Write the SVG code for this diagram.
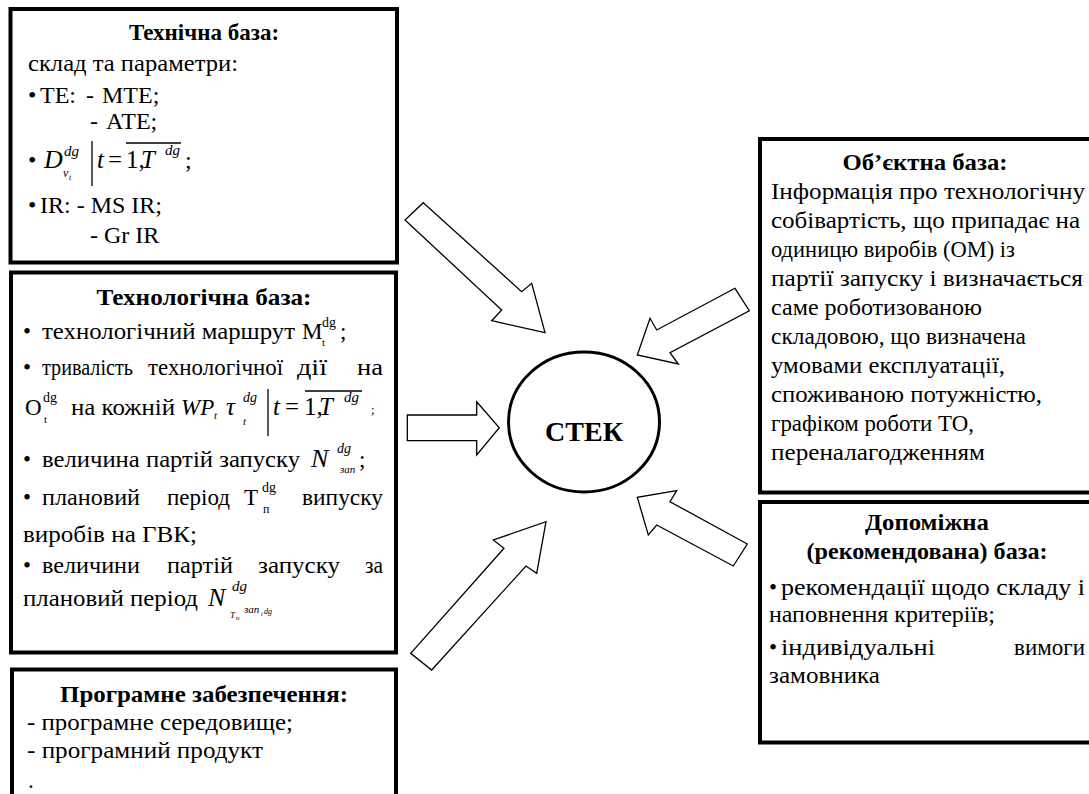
<svg xmlns="http://www.w3.org/2000/svg" width="1089" height="794" viewBox="0 0 1089 794">
<style>
.t{font-family:"Liberation Serif","Times New Roman",serif;fill:#000}
.b{font-weight:bold}
.i{font-style:italic}
.box{fill:#fff;stroke:#000;stroke-width:4}
.arr{fill:#fff;stroke:#000;stroke-width:1.3;stroke-linejoin:miter}
.ln{stroke:#000;stroke-width:1.3}
</style>
<rect width="1089" height="794" fill="#fff"/>

<g id="tech-base" font-size="24">
<rect class="box" x="10.5" y="9" width="386.5" height="253.5"/>
<text class="t b" x="204" y="40" text-anchor="middle" font-size="23">Технічна база:</text>
<text class="t" x="28" y="71" textLength="210" lengthAdjust="spacingAndGlyphs">склад та параметри:</text>
<text class="t" x="28" y="103">•</text>
<text class="t" x="40" y="103">ТЕ:</text>
<text class="t" x="86" y="103">-</text>
<text class="t" x="102" y="103">МТЕ;</text>
<text class="t" x="90" y="129">-</text>
<text class="t" x="106" y="129">АТЕ;</text>
<text class="t" x="28" y="168">•</text>
<text class="t i" x="44" y="168" font-size="26">D</text>
<text class="t i" x="64" y="156" font-size="15">dg</text>
<text class="t i" x="63" y="177" font-size="12">v</text>
<text class="t i" x="69" y="180" font-size="8">t</text>
<line class="ln" x1="92" y1="141" x2="92" y2="186" stroke-width="1.6"/>
<text class="t i" x="97" y="168" font-size="25">t</text>
<text class="t" x="108" y="168" font-size="25">=</text>
<text class="t" x="126" y="168" font-size="25">1,</text>
<text class="t i" x="141" y="168" font-size="25">T</text>
<text class="t i" x="165" y="155" font-size="15">dg</text>
<line class="ln" x1="126" y1="143" x2="181" y2="143"/>
<text class="t" x="185" y="168">;</text>
<text class="t" x="28" y="213">•</text>
<text class="t" x="40" y="213">IR: - MS IR;</text>
<text class="t" x="90" y="243">- Gr IR</text>
</g>

<g id="techno-base" font-size="23">
<rect class="box" x="11" y="272.5" width="385" height="380"/>
<text class="t b" x="204" y="305" text-anchor="middle" textLength="215" lengthAdjust="spacingAndGlyphs">Технологічна база:</text>
<text class="t" x="23" y="339">•</text>
<text class="t" x="42" y="339" textLength="253" lengthAdjust="spacingAndGlyphs">технологічний маршрут</text>
<text class="t" x="302" y="339">M</text>
<text class="t" x="322" y="327" font-size="14">dg</text>
<text class="t" x="322" y="346" font-size="11">t</text>
<text class="t" x="340" y="339">;</text>

<text class="t" x="23" y="375">•</text>
<text class="t" x="42" y="375" textLength="91" lengthAdjust="spacingAndGlyphs">тривалість</text>
<text class="t" x="148" y="375" textLength="135" lengthAdjust="spacingAndGlyphs">технологічної</text>
<text class="t" x="297" y="375" textLength="30" lengthAdjust="spacingAndGlyphs">дії</text>
<text class="t" x="357" y="375" textLength="26" lengthAdjust="spacingAndGlyphs">на</text>

<text class="t" x="25" y="415">O</text>
<text class="t" x="43" y="402" font-size="14">dg</text>
<text class="t" x="44" y="423" font-size="11">t</text>
<text class="t" x="71" y="415" textLength="104" lengthAdjust="spacingAndGlyphs">на кожній</text>
<text class="t i" x="181" y="415">WP</text>
<text class="t i" x="214" y="419" font-size="11">t</text>
<text class="t i" x="226" y="415" font-size="25">τ</text>
<text class="t i" x="243" y="402" font-size="14">dg</text>
<text class="t i" x="243" y="425" font-size="11">t</text>
<line class="ln" x1="268" y1="389" x2="268" y2="436" stroke-width="1.6"/>
<text class="t i" x="273" y="415" font-size="25">t</text>
<text class="t" x="285" y="415" font-size="25">=</text>
<text class="t" x="304" y="415" font-size="25">1,</text>
<text class="t i" x="319" y="415" font-size="25">T</text>
<text class="t i" x="344" y="402" font-size="15">dg</text>
<line class="ln" x1="305" y1="391" x2="362" y2="391"/>
<text class="t" x="371" y="414" font-size="13">;</text>

<text class="t" x="23" y="467">•</text>
<text class="t" x="42" y="467" textLength="258" lengthAdjust="spacingAndGlyphs">величина партій запуску</text>
<text class="t i" x="311" y="467" font-size="26">N</text>
<text class="t i" x="337" y="453" font-size="14">dg</text>
<text class="t i" x="340" y="473" font-size="11">зап</text>
<text class="t" x="359" y="467">;</text>

<text class="t" x="23" y="505">•</text>
<text class="t" x="42" y="505" textLength="98" lengthAdjust="spacingAndGlyphs">плановий</text>
<text class="t" x="167" y="505" textLength="63" lengthAdjust="spacingAndGlyphs">період</text>
<text class="t" x="244" y="505">Т</text>
<text class="t" x="262" y="492" font-size="14">dg</text>
<text class="t" x="263" y="513" font-size="12">п</text>
<text class="t" x="302" y="505" textLength="81" lengthAdjust="spacingAndGlyphs">випуску</text>

<text class="t" x="23" y="542" textLength="174" lengthAdjust="spacingAndGlyphs">виробів на ГВК;</text>

<text class="t" x="23" y="573">•</text>
<text class="t" x="42" y="573" textLength="98" lengthAdjust="spacingAndGlyphs">величини</text>
<text class="t" x="167" y="573" textLength="66" lengthAdjust="spacingAndGlyphs">партій</text>
<text class="t" x="258" y="573" textLength="82" lengthAdjust="spacingAndGlyphs">запуску</text>
<text class="t" x="365" y="573" textLength="18" lengthAdjust="spacingAndGlyphs">за</text>

<text class="t" x="23" y="606" textLength="175" lengthAdjust="spacingAndGlyphs">плановий період</text>
<text class="t i" x="208" y="606" font-size="26">N</text>
<text class="t i" x="232" y="591" font-size="15">dg</text>
<text class="t i" x="230" y="618" font-size="9">T</text>
<text class="t i" x="236" y="620" font-size="7">n</text>
<text class="t i" x="244" y="613" font-size="11">зап</text>
<text class="t i" x="261" y="616" font-size="6">t</text>
<text class="t i" x="264" y="614" font-size="8">dg</text>
</g>

<g id="software" font-size="23">
<rect class="box" x="12" y="669.5" width="384" height="140"/>
<text class="t b" x="204" y="702" text-anchor="middle" textLength="288" lengthAdjust="spacingAndGlyphs">Програмне забезпечення:</text>
<text class="t" x="27" y="730" textLength="266" lengthAdjust="spacingAndGlyphs">- програмне середовище;</text>
<text class="t" x="27" y="758" textLength="236" lengthAdjust="spacingAndGlyphs">- програмний продукт</text>
<text class="t" x="28" y="788">.</text>
</g>

<g id="object-base" font-size="23">
<rect class="box" x="760" y="139" width="340" height="353.5"/>
<text class="t b" x="925" y="170" text-anchor="middle" textLength="165" lengthAdjust="spacingAndGlyphs">Об’єктна база:</text>
<text class="t" x="771" y="199" textLength="314" lengthAdjust="spacingAndGlyphs">Інформація про технологічну</text>
<text class="t" x="771" y="228" textLength="309" lengthAdjust="spacingAndGlyphs">собівартість, що припадає на</text>
<text class="t" x="771" y="257" textLength="244" lengthAdjust="spacingAndGlyphs">одиницю виробів (ОМ) із</text>
<text class="t" x="771" y="286" textLength="312" lengthAdjust="spacingAndGlyphs">партії запуску і визначається</text>
<text class="t" x="771" y="315" textLength="211" lengthAdjust="spacingAndGlyphs">саме роботизованою</text>
<text class="t" x="771" y="344" textLength="255" lengthAdjust="spacingAndGlyphs">складовою, що визначена</text>
<text class="t" x="771" y="373" textLength="234" lengthAdjust="spacingAndGlyphs">умовами експлуатації,</text>
<text class="t" x="771" y="402" textLength="271" lengthAdjust="spacingAndGlyphs">споживаною потужністю,</text>
<text class="t" x="771" y="431" textLength="203" lengthAdjust="spacingAndGlyphs">графіком роботи ТО,</text>
<text class="t" x="771" y="460" textLength="214" lengthAdjust="spacingAndGlyphs">переналагодженням</text>
</g>

<g id="aux-base" font-size="23">
<rect class="box" x="760" y="502" width="340" height="240.5"/>
<text class="t b" x="927" y="530" text-anchor="middle" textLength="124" lengthAdjust="spacingAndGlyphs">Допоміжна</text>
<text class="t b" x="927" y="559" text-anchor="middle" textLength="241" lengthAdjust="spacingAndGlyphs">(рекомендована) база:</text>
<text class="t" x="769" y="595">•</text>
<text class="t" x="781" y="595" textLength="304" lengthAdjust="spacingAndGlyphs">рекомендації щодо складу і</text>
<text class="t" x="769" y="622" textLength="226" lengthAdjust="spacingAndGlyphs">наповнення критеріїв;</text>
<text class="t" x="769" y="655">•</text>
<text class="t" x="781" y="655" textLength="154" lengthAdjust="spacingAndGlyphs">індивідуальні</text>
<text class="t" x="1085" y="655" text-anchor="end">вимоги</text>
<text class="t" x="769" y="683" textLength="111" lengthAdjust="spacingAndGlyphs">замовника</text>
</g>

<g id="stek">
<ellipse cx="584" cy="422" rx="75.5" ry="70" fill="#fff" stroke="#000" stroke-width="3"/>
<text class="t b" x="584" y="441" text-anchor="middle" font-size="28">СТЕК</text>
</g>

<g id="connectors">
<polygon class="arr" points="423.3,202.7 521.7,291.7 531.7,283.3 545,332.7 491.7,320.7 501.7,310 405,220"/>
<polygon class="arr" points="735,288.3 656.7,330 650,318.3 637.3,355 678.3,364 670,352.7 749.3,310.7"/>
<polygon class="arr" points="407.3,415 476.7,415 476.7,401.7 499.3,427.7 476.7,455 476.7,440.7 407.3,440.7"/>
<polygon class="arr" points="431.7,670 526,566 536.7,573.3 546,521.7 493.3,540 504,548.3 410.7,653.3"/>
<polygon class="arr" points="747.3,544 670,501.7 676.7,490.7 637.3,497.3 648.3,535 656.7,525 733.3,566"/>
</g>
</svg>
